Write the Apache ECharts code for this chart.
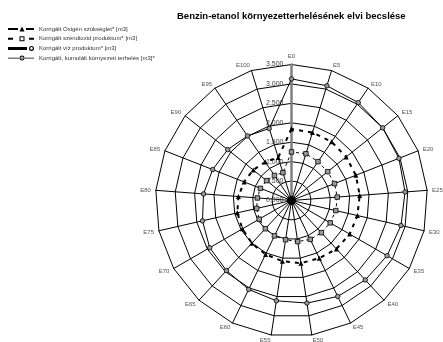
<!DOCTYPE html>
<html>
<head>
<meta charset="utf-8">
<script src="https://cdn.jsdelivr.net/npm/echarts@6/dist/echarts.min.js"></script>
<style>html,body{margin:0;padding:0;background:#fff}#c{width:443px;height:342px}</style>
</head>
<body>
<div id="c"></div>
<script>
const categories = ['E0','E5','E10','E15','E20','E25','E30','E35','E40','E45','E50','E55','E60','E65','E70','E75','E80','E85','E90','E95','E100'];
const seriesNames = [
  'Korrigált Oxigén szükséglet* [m3]',
  'Korrigált széndioxid produktum* [m3]',
  'Korrigált víz produktum* [m3]',
  'Korrigált, kumulált környezeti terhelés [m3]*'
];
const oxigen   = [1.84,1.83,1.83,1.80,1.78,1.76,1.74,1.73,1.70,1.65,1.63,1.58,1.54,1.50,1.46,1.43,1.37,1.31,1.26,1.20,1.16];
const szendiox = [1.25,1.26,1.21,1.19,1.19,1.18,1.17,1.15,1.13,1.11,1.07,1.02,1.01,0.99,0.96,0.92,0.88,0.86,0.82,0.78,0.75];
const viz      = [0.06,0.06,0.06,0.06,0.06,0.06,0.06,0.06,0.06,0.06,0.06,0.06,0.06,0.06,0.06,0.06,0.06,0.06,0.06,0.06,0.06];
const kumulalt = [3.13,3.09,3.05,3.00,2.97,2.93,2.89,2.84,2.79,2.74,2.67,2.61,2.54,2.46,2.43,2.35,2.27,2.18,2.10,2.01,1.94];
const axisMax = 3.5;
const axisSplits = 7;

// radar lays indicators counter-clockwise; reference runs clockwise
const order = [0].concat(categories.map((c,i)=>i).slice(1).reverse());
const reorder = arr => order.map(i => arr[i]);

const FONT = 'Liberation Sans, Arial, sans-serif';
const indicators = order.map((i, k) => {
  const ind = { name: categories[i], min: 0, max: axisMax };
  if (k === 0) {
    ind.axisLabel = { show: true };
    ind.axisLine = { lineStyle: { color: '#7f7f7f', width: 2.5 } };
  }
  return ind;
});

const icons = [
  'path://M0,3L10,3L10,5L0,5Z M11.5,6.5L14,1.5L16.5,6.5Z M18,3L26,3L26,5L18,5Z',
  'path://M0,3L5,3L5,5L0,5Z M11.5,1.5L16.5,1.5L16.5,6.5L11.5,6.5Z M12.5,2.5L12.5,5.5L15.5,5.5L15.5,2.5Z M21,3L26,3L26,5L21,5Z',
  'path://M0,2.5L19,2.5L19,5.5L0,5.5Z M21,4A2.5,2.5 0 1,0 26,4A2.5,2.5 0 1,0 21,4Z M22.2,4A1.3,1.3 0 1,1 24.8,4A1.3,1.3 0 1,1 22.2,4Z',
  'path://M0,3.6L26,3.6L26,4.4L0,4.4Z M11.5,4A2.5,2.5 0 1,0 16.5,4A2.5,2.5 0 1,0 11.5,4Z M12.5,4A1.5,1.5 0 1,1 15.5,4A1.5,1.5 0 1,1 12.5,4Z'
];

const chart = echarts.init(document.getElementById('c'), null, { renderer: 'canvas' });
chart.setOption({
  animation: false,
  backgroundColor: '#fff',
  title: {
    text: 'Benzin-etanol környezetterhelésének elvi becslése',
    left: 172, top: 6,
    textStyle: { fontFamily: FONT, fontSize: 9.5, fontWeight: 'bold', color: '#000' }
  },
  legend: {
    orient: 'vertical', left: 3, top: 20.5,
    itemWidth: 26, itemHeight: 5, itemGap: 2.7,
    textStyle: { fontFamily: FONT, fontSize: 6, color: '#333', lineHeight: 7 },
    data: seriesNames.map((n, i) => ({ name: n, icon: icons[i], itemStyle: { color: '#000', borderWidth: 0 } }))
  },
  radar: {
    center: [291.5, 200.5],
    radius: 136,
    startAngle: 90,
    shape: 'polygon',
    splitNumber: axisSplits,
    indicator: indicators,
    axisName: { fontFamily: FONT, fontSize: 6, color: '#555' },
    nameGap: 5,
    axisLine: { show: true, lineStyle: { color: '#000', width: 1 } },
    splitLine: { show: true, lineStyle: { color: '#000', width: 1 } },
    splitArea: { show: false },
    axisTick: { show: false },
    axisLabel: {
      show: false, fontFamily: FONT, fontSize: 7, color: '#404040',
      formatter: v => Number(v).toFixed(3).replace('.', ',')
    }
  },
  series: [{
    type: 'radar',
    z: 2,
    data: [
      {
        name: seriesNames[0], value: reorder(oxigen),
        symbol: 'triangle', symbolSize: 5,
        itemStyle: { color: '#000' },
        lineStyle: { color: '#000', width: 2, type: [4, 5] }
      },
      {
        name: seriesNames[1], value: reorder(szendiox),
        symbol: 'rect', symbolSize: 4.5,
        itemStyle: { color: '#9a9a9a', borderColor: '#000', borderWidth: 0.8 },
        lineStyle: { color: '#000', width: 1, type: [3, 3] }
      },
      {
        name: seriesNames[2], value: reorder(viz),
        symbol: 'circle', symbolSize: 4,
        itemStyle: { color: '#000' },
        lineStyle: { color: '#000', width: 2.5 }
      },
      {
        name: seriesNames[3], value: reorder(kumulalt),
        symbol: 'circle', symbolSize: 4.5,
        itemStyle: { color: '#9a9a9a', borderColor: '#000', borderWidth: 0.8 },
        lineStyle: { color: '#000', width: 1 }
      }
    ]
  }]
});
</script>
</body>
</html>
